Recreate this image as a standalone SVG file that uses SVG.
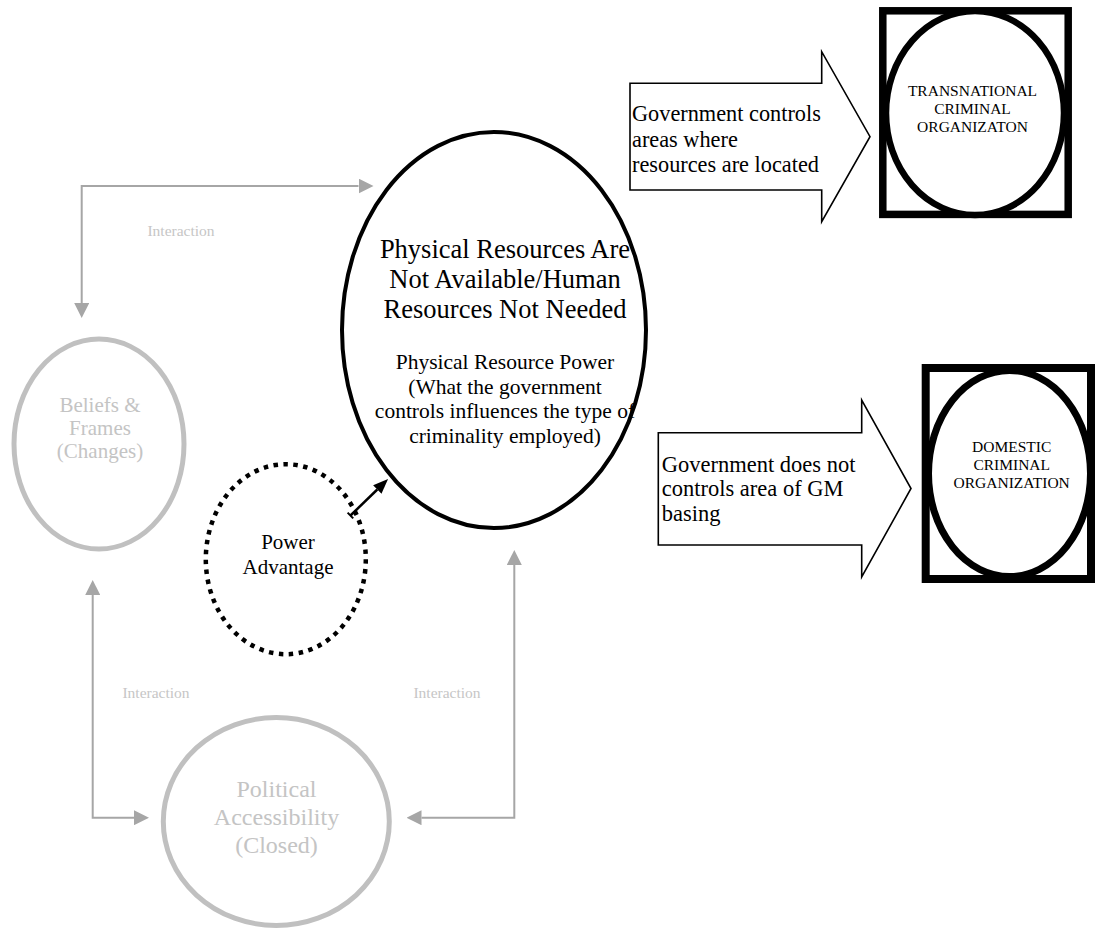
<svg xmlns="http://www.w3.org/2000/svg" width="1095" height="930" viewBox="0 0 1095 930">
  <style>
    text { font-family: "Liberation Serif", "Times New Roman", serif; }
    .dark { fill: #000; }
    .faint { fill: #c4c4c4; }
    .label { fill: #c6c6c6; font-size: 15.5px; }
    .conn { fill: none; stroke: #a6a6a6; stroke-width: 2; }
    .block { fill: #fff; stroke: #000; stroke-width: 1.6; }
  </style>
  <defs>
    <marker id="grayHead" markerUnits="userSpaceOnUse" markerWidth="15" markerHeight="15" viewBox="0 0 15 15" refX="0" refY="7.5" orient="auto-start-reverse">
      <path d="M0,0 L15,7.5 L0,15 z" fill="#a6a6a6"/>
    </marker>
    <marker id="blackHead" markerUnits="userSpaceOnUse" markerWidth="15" markerHeight="12" viewBox="0 0 15 12" refX="0" refY="6" orient="auto">
      <path d="M0,0 L15,6 L0,12 z" fill="#000"/>
    </marker>
  </defs>

  <rect width="1095" height="930" fill="#fff"/>

  <!-- connectors -->
  <g id="connectors">
    <path class="conn" d="M81.7,303 V186 H358.5" marker-start="url(#grayHead)" marker-end="url(#grayHead)"/>
    <path class="conn" d="M92.7,595 V817.7 H134" marker-start="url(#grayHead)" marker-end="url(#grayHead)"/>
    <path class="conn" d="M514.3,565 V817.7 H421.5" marker-start="url(#grayHead)" marker-end="url(#grayHead)"/>
    <line x1="350.5" y1="515.5" x2="377.3" y2="489.5" stroke="#000" stroke-width="2.5" marker-end="url(#blackHead)"/>
    <line x1="347.6" y1="512.6" x2="353.2" y2="518.4" stroke="#000" stroke-width="2"/>
    <text class="label" x="181" y="236" text-anchor="middle">Interaction</text>
    <text class="label" x="156" y="698" text-anchor="middle">Interaction</text>
    <text class="label" x="447" y="698" text-anchor="middle">Interaction</text>
  </g>

  <!-- central node -->
  <g id="physical-resources">
    <ellipse cx="494" cy="330" rx="152" ry="198" fill="#fff" stroke="#000" stroke-width="4"/>
    <g class="dark" text-anchor="middle" font-size="26.5">
      <text x="505" y="258.3">Physical Resources Are</text>
      <text x="505" y="288.3">Not Available/Human</text>
      <text x="505" y="318.3">Resources Not Needed</text>
    </g>
    <g class="dark" text-anchor="middle" font-size="21.5">
      <text x="505" y="369.3">Physical Resource Power</text>
      <text x="505" y="393.8">(What the government</text>
      <text x="505" y="418.3">controls influences the type of</text>
      <text x="505" y="442.8">criminality employed)</text>
    </g>
  </g>

  <!-- beliefs node -->
  <g id="beliefs-frames">
    <ellipse cx="99" cy="444" rx="85" ry="105" fill="none" stroke="#c0c0c0" stroke-width="5"/>
    <g class="faint" text-anchor="middle" font-size="21">
      <text x="100" y="411.7">Beliefs &amp;</text>
      <text x="100" y="435">Frames</text>
      <text x="100" y="458.3">(Changes)</text>
    </g>
  </g>

  <!-- power advantage node -->
  <g id="power-advantage">
    <ellipse cx="285.8" cy="559.2" rx="80" ry="95" fill="none" stroke="#000" stroke-width="4.5" stroke-dasharray="4.5 5.5"/>
    <g class="dark" text-anchor="middle" font-size="21">
      <text x="288" y="549.3">Power</text>
      <text x="288" y="574">Advantage</text>
    </g>
  </g>

  <!-- political accessibility node -->
  <g id="political-accessibility">
    <ellipse cx="276.3" cy="821.5" rx="113" ry="104" fill="none" stroke="#c0c0c0" stroke-width="5"/>
    <g class="faint" text-anchor="middle" font-size="24">
      <text x="276.5" y="796.7">Political</text>
      <text x="276.5" y="825">Accessibility</text>
      <text x="276.5" y="853.3">(Closed)</text>
    </g>
  </g>

  <!-- block arrow: government controls -->
  <g id="arrow-controls">
    <polygon class="block" points="630,83.3 821.7,83.3 821.7,51.7 870,136.7 821.7,221.7 821.7,190 630,190"/>
    <g class="dark" font-size="22.3">
      <text x="632" y="121">Government controls</text>
      <text x="632" y="146.5">areas where</text>
      <text x="632" y="172">resources are located</text>
    </g>
  </g>

  <!-- block arrow: government does not control -->
  <g id="arrow-no-control">
    <polygon class="block" points="658.3,432.7 861.7,432.7 861.7,400 911,488.5 861.7,577 861.7,545 658.3,545"/>
    <g class="dark" font-size="22.5">
      <text x="661.7" y="471.5">Government does not</text>
      <text x="661.7" y="496">controls area of GM</text>
      <text x="661.7" y="520.5">basing</text>
    </g>
  </g>

  <!-- transnational organization node -->
  <g id="transnational">
    <rect x="882.8" y="10.8" width="185.4" height="203.6" fill="#fff" stroke="#000" stroke-width="7.5"/>
    <ellipse cx="975" cy="113" rx="89" ry="102" fill="#fff" stroke="#000" stroke-width="6.5"/>
    <g class="dark" text-anchor="middle" font-size="15.5">
      <text x="972.5" y="96">TRANSNATIONAL</text>
      <text x="972.5" y="113.5">CRIMINAL</text>
      <text x="972.5" y="131.5">ORGANIZATON</text>
    </g>
  </g>

  <!-- domestic organization node -->
  <g id="domestic">
    <rect x="925.7" y="368" width="165.3" height="211" fill="#fff" stroke="#000" stroke-width="8"/>
    <ellipse cx="1009.5" cy="473.5" rx="81" ry="103" fill="#fff" stroke="#000" stroke-width="7"/>
    <g class="dark" text-anchor="middle" font-size="15.5">
      <text x="1011.7" y="451.7">DOMESTIC</text>
      <text x="1011.7" y="470">CRIMINAL</text>
      <text x="1011.7" y="488.3">ORGANIZATION</text>
    </g>
  </g>
</svg>
